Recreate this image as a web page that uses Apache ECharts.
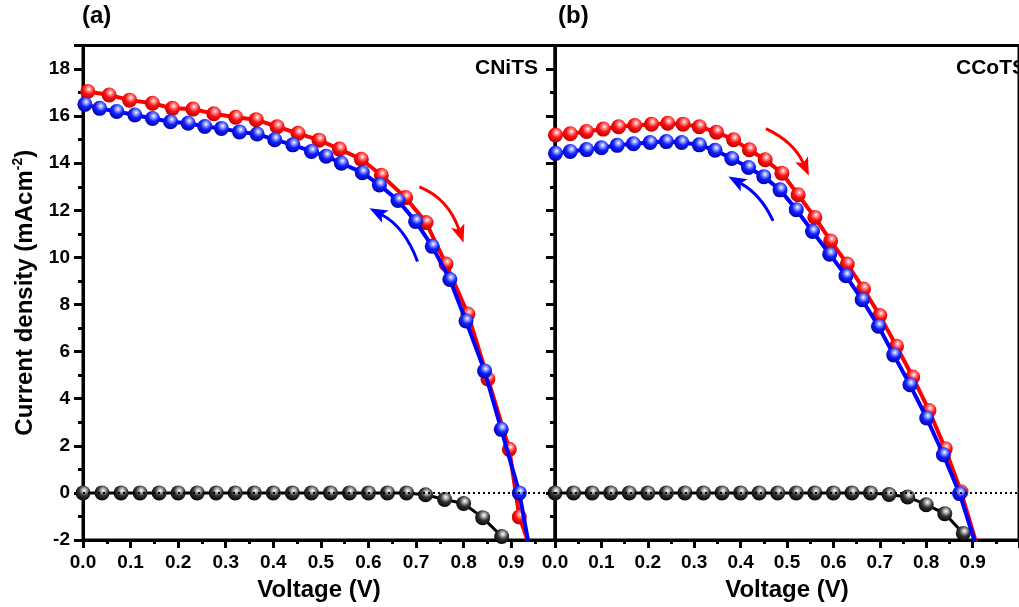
<!DOCTYPE html>
<html>
<head>
<meta charset="utf-8">
<script src="https://cdn.jsdelivr.net/npm/echarts@6/dist/echarts.min.js"></script>
<style>
  html, body { margin: 0; padding: 0; background: #fff; }
  #chart { width: 1019px; height: 607px; }
</style>
</head>
<body>
<div id="chart"></div>
<script>
// ---- panel (a) CNiTS ----
const aDarkV = [0, 0.04, 0.08, 0.12, 0.16, 0.2, 0.24, 0.28, 0.32, 0.36, 0.4, 0.44, 0.48, 0.52, 0.56, 0.6, 0.64, 0.68, 0.72, 0.76, 0.8, 0.84, 0.88]
const aDarkJ = [0, 0, 0, 0, 0, 0, 0, 0, 0, 0, 0, 0, 0, 0, 0, 0, 0, 0, -0.08, -0.28, -0.45, -1.05, -1.85]
const aFwdV = [0.01, 0.055, 0.098, 0.146, 0.188, 0.231, 0.275, 0.321, 0.364, 0.408, 0.452, 0.496, 0.539, 0.585, 0.627, 0.678, 0.721, 0.763, 0.809, 0.851, 0.896, 0.917, 0.955]
const aFwdJ = [17.05, 16.9, 16.68, 16.55, 16.33, 16.3, 16.1, 15.95, 15.85, 15.55, 15.27, 14.98, 14.6, 14.17, 13.49, 12.54, 11.48, 9.72, 7.6, 4.84, 1.85, -1.02, -3.2]
const aRevV = [0.004, 0.035, 0.071, 0.109, 0.146, 0.184, 0.221, 0.256, 0.291, 0.329, 0.366, 0.403, 0.441, 0.48, 0.511, 0.543, 0.587, 0.623, 0.662, 0.699, 0.734, 0.771, 0.805, 0.844, 0.879, 0.917, 0.955]
const aRevJ = [16.5, 16.33, 16.2, 16.05, 15.9, 15.76, 15.7, 15.56, 15.48, 15.33, 15.24, 15.0, 14.78, 14.5, 14.3, 14.0, 13.6, 13.08, 12.42, 11.53, 10.47, 9.06, 7.3, 5.18, 2.7, 0, -4.2]

// ---- panel (b) CCoTS ----
const bDarkV = [0, 0.04, 0.08, 0.12, 0.16, 0.2, 0.24, 0.28, 0.32, 0.36, 0.4, 0.44, 0.48, 0.52, 0.56, 0.6, 0.64, 0.68, 0.72, 0.76, 0.8, 0.84, 0.88]
const bDarkJ = [0, 0, 0, 0, 0, 0, 0, 0, 0, 0, 0, 0, 0, 0, 0, 0, 0, 0, -0.07, -0.17, -0.5, -0.88, -1.72]
const bFwdV = [0.001, 0.033, 0.068, 0.104, 0.137, 0.172, 0.208, 0.243, 0.276, 0.311, 0.348, 0.385, 0.419, 0.453, 0.489, 0.524, 0.56, 0.594, 0.63, 0.665, 0.7, 0.736, 0.771, 0.806, 0.841, 0.875, 0.915]
const bFwdJ = [15.2, 15.25, 15.35, 15.45, 15.55, 15.6, 15.66, 15.7, 15.66, 15.55, 15.32, 15.0, 14.57, 14.15, 13.58, 12.66, 11.7, 10.7, 9.72, 8.66, 7.53, 6.23, 4.92, 3.5, 1.88, 0.05, -2.6]
const bRevV = [0.001, 0.033, 0.068, 0.1, 0.134, 0.169, 0.205, 0.24, 0.273, 0.311, 0.345, 0.381, 0.417, 0.45, 0.485, 0.52, 0.555, 0.592, 0.627, 0.662, 0.697, 0.73, 0.765, 0.801, 0.837, 0.872, 0.915]
const bRevJ = [14.42, 14.5, 14.58, 14.66, 14.76, 14.83, 14.88, 14.92, 14.88, 14.78, 14.55, 14.2, 13.82, 13.43, 12.87, 12.03, 11.1, 10.14, 9.22, 8.2, 7.08, 5.86, 4.59, 3.18, 1.62, -0.03, -2.7]

// sweep-direction arrows: [start, control, end] in data coords
const arrowsA = [
  { color: '#ff0000', pts: [[0.707, 13.0], [0.768, 12.5], [0.795, 10.9]] },
  { color: '#0000ff', pts: [[0.703, 9.83], [0.676, 11.3], [0.615, 11.95]] },
]
const arrowsB = [
  { color: '#ff0000', pts: [[0.4545, 15.47], [0.515, 14.9], [0.541, 13.74]] },
  { color: '#0000ff', pts: [[0.47, 11.55], [0.444, 12.67], [0.387, 13.29]] },
]

const FONT = 'Arial, "Liberation Sans", sans-serif'
const zip = (v, j) => v.map((x, i) => [x, j[i]])

function ball(hi, base, dark) {
  return new echarts.graphic.RadialGradient(0.58, 0.34, 0.7, [
    { offset: 0, color: '#ffffff' },
    { offset: 0.18, color: hi },
    { offset: 0.5, color: base },
    { offset: 1, color: dark },
  ])
}

const RED = { line: '#ff0000', sym: () => ball('#ff9a9a', '#ff1010', '#b00000') }
const BLUE = { line: '#0000ff', sym: () => ball('#a0a8ff', '#1020ff', '#0000a0') }
const BLACK = { line: '#000000', sym: () => ball('#bbbbbb', '#333333', '#000000') }

function series(name, data, gi, c, width, extra) {
  return Object.assign({
    name,
    type: 'line',
    xAxisIndex: gi,
    yAxisIndex: gi,
    data,
    symbol: 'circle',
    symbolSize: 15,
    showAllSymbol: true,
    clip: true,
    lineStyle: { color: c.line, width },
    itemStyle: { color: c.sym(), borderWidth: 0 },
    z: 3,
  }, extra || {})
}

function zeroLine() {
  return {
    silent: true,
    symbol: ['none', 'none'],
    label: { show: false },
    lineStyle: { color: '#000', type: [2, 3], width: 2 },
    data: [{ yAxis: 0 }],
  }
}

const tickStyle = { color: '#000', width: 3 }
const labelStyle = { fontSize: 19, fontWeight: 'bold', color: '#000', fontFamily: FONT }

function xAxis(gi, max) {
  return {
    gridIndex: gi,
    type: 'value',
    min: 0,
    max,
    interval: 0.1,
    name: 'Voltage (V)',
    nameLocation: 'middle',
    nameGap: 38,
    nameTextStyle: { fontSize: 24, fontWeight: 'bold', color: '#000', fontFamily: FONT },
    axisLine: { onZero: false, lineStyle: { color: '#000', width: 3 } },
    axisTick: { length: 8, lineStyle: tickStyle },
    minorTick: { show: true, splitNumber: 2, length: 4, lineStyle: tickStyle },
    axisLabel: Object.assign({ margin: 13, showMaxLabel: false, formatter: (v) => v.toFixed(1) }, labelStyle),
    splitLine: { show: false },
  }
}

function yAxis(gi, withLabels) {
  return {
    gridIndex: gi,
    type: 'value',
    min: -2,
    max: 19,
    interval: 2,
    name: withLabels ? '{t|Current density (mAcm}{s|-2}{t|)}' : '',
    nameLocation: 'middle',
    nameGap: 44,
    nameTextStyle: {
      rich: {
        t: { fontSize: 24, fontWeight: 'bold', color: '#000', fontFamily: FONT, lineHeight: 28 },
        s: { fontSize: 14, fontWeight: 'bold', color: '#000', fontFamily: FONT, verticalAlign: 'top', lineHeight: 28 },
      },
    },
    axisLine: { onZero: false, lineStyle: { color: '#000', width: 3 } },
    axisTick: { length: 9, lineStyle: tickStyle },
    minorTick: { show: true, splitNumber: 2, length: 5, lineStyle: tickStyle },
    axisLabel: Object.assign({ show: withLabels, margin: 13, showMaxLabel: false }, labelStyle),
    splitLine: { show: false },
  }
}

const chart = echarts.init(document.getElementById('chart'))

chart.setOption({
  animation: false,
  backgroundColor: '#fff',
  grid: [
    { left: 83, top: 45.5, width: 472, height: 496, show: true, borderColor: '#000', borderWidth: 3, backgroundColor: 'transparent' },
    { left: 555, top: 45.5, width: 473, height: 496, show: true, borderColor: '#000', borderWidth: 3, backgroundColor: 'transparent' },
  ],
  xAxis: [xAxis(0, 0.992), xAxis(1, 1.0)],
  yAxis: [yAxis(0, true), yAxis(1, false)],
  series: [
    series('a dark', zip(aDarkV, aDarkJ), 0, BLACK, 3, { markLine: zeroLine(), z: 2 }),
    series('a forward', zip(aFwdV, aFwdJ), 0, RED, 4),
    series('a reverse', zip(aRevV, aRevJ), 0, BLUE, 4, { z: 4 }),
    series('b dark', zip(bDarkV, bDarkJ), 1, BLACK, 3, { markLine: zeroLine(), z: 2 }),
    series('b forward', zip(bFwdV, bFwdJ), 1, RED, 4),
    series('b reverse', zip(bRevV, bRevJ), 1, BLUE, 4, { z: 4 }),
  ],
})

// curved arrows, placed through the axes
function arrowShapes(gi, arrows) {
  const out = []
  arrows.forEach((a) => {
    const [s, c, e] = a.pts.map((p) => chart.convertToPixel({ gridIndex: gi }, p))
    let dx = e[0] - c[0], dy = e[1] - c[1]
    const len = Math.hypot(dx, dy)
    dx /= len; dy /= len
    const L = 18, W = 7
    const tip = [e[0] + dx * 7, e[1] + dy * 7]
    const base = [tip[0] - dx * L, tip[1] - dy * L]
    out.push({
      type: 'bezierCurve',
      shape: { x1: s[0], y1: s[1], cpx1: c[0], cpy1: c[1], x2: base[0] + dx * 4, y2: base[1] + dy * 4 },
      style: { stroke: a.color, lineWidth: 3, fill: null },
      z: 10,
    })
    out.push({
      type: 'polygon',
      shape: { points: [tip, [base[0] - dy * W, base[1] + dx * W], [base[0] + dx * 4, base[1] + dy * 4], [base[0] + dy * W, base[1] - dx * W]] },
      style: { fill: a.color },
      z: 10,
    })
  })
  return out
}

const titleFont = 'bold 24px ' + FONT
const tagFont = 'bold 21px ' + FONT

chart.setOption({
  graphic: [
    { type: 'text', x: 82, y: 4, style: { text: '(a)', font: titleFont, fill: '#000' }, z: 20 },
    { type: 'text', x: 558, y: 4, style: { text: '(b)', font: titleFont, fill: '#000' }, z: 20 },
    { type: 'text', x: 538, y: 68, style: { text: 'CNiTS', font: tagFont, fill: '#000', align: 'right', verticalAlign: 'middle' }, z: 20 },
    { type: 'text', x: 956, y: 68, style: { text: 'CCoTS', font: tagFont, fill: '#000', align: 'left', verticalAlign: 'middle' }, z: 20 },
    ...arrowShapes(0, arrowsA),
    ...arrowShapes(1, arrowsB),
  ],
})
</script>
</body>
</html>
